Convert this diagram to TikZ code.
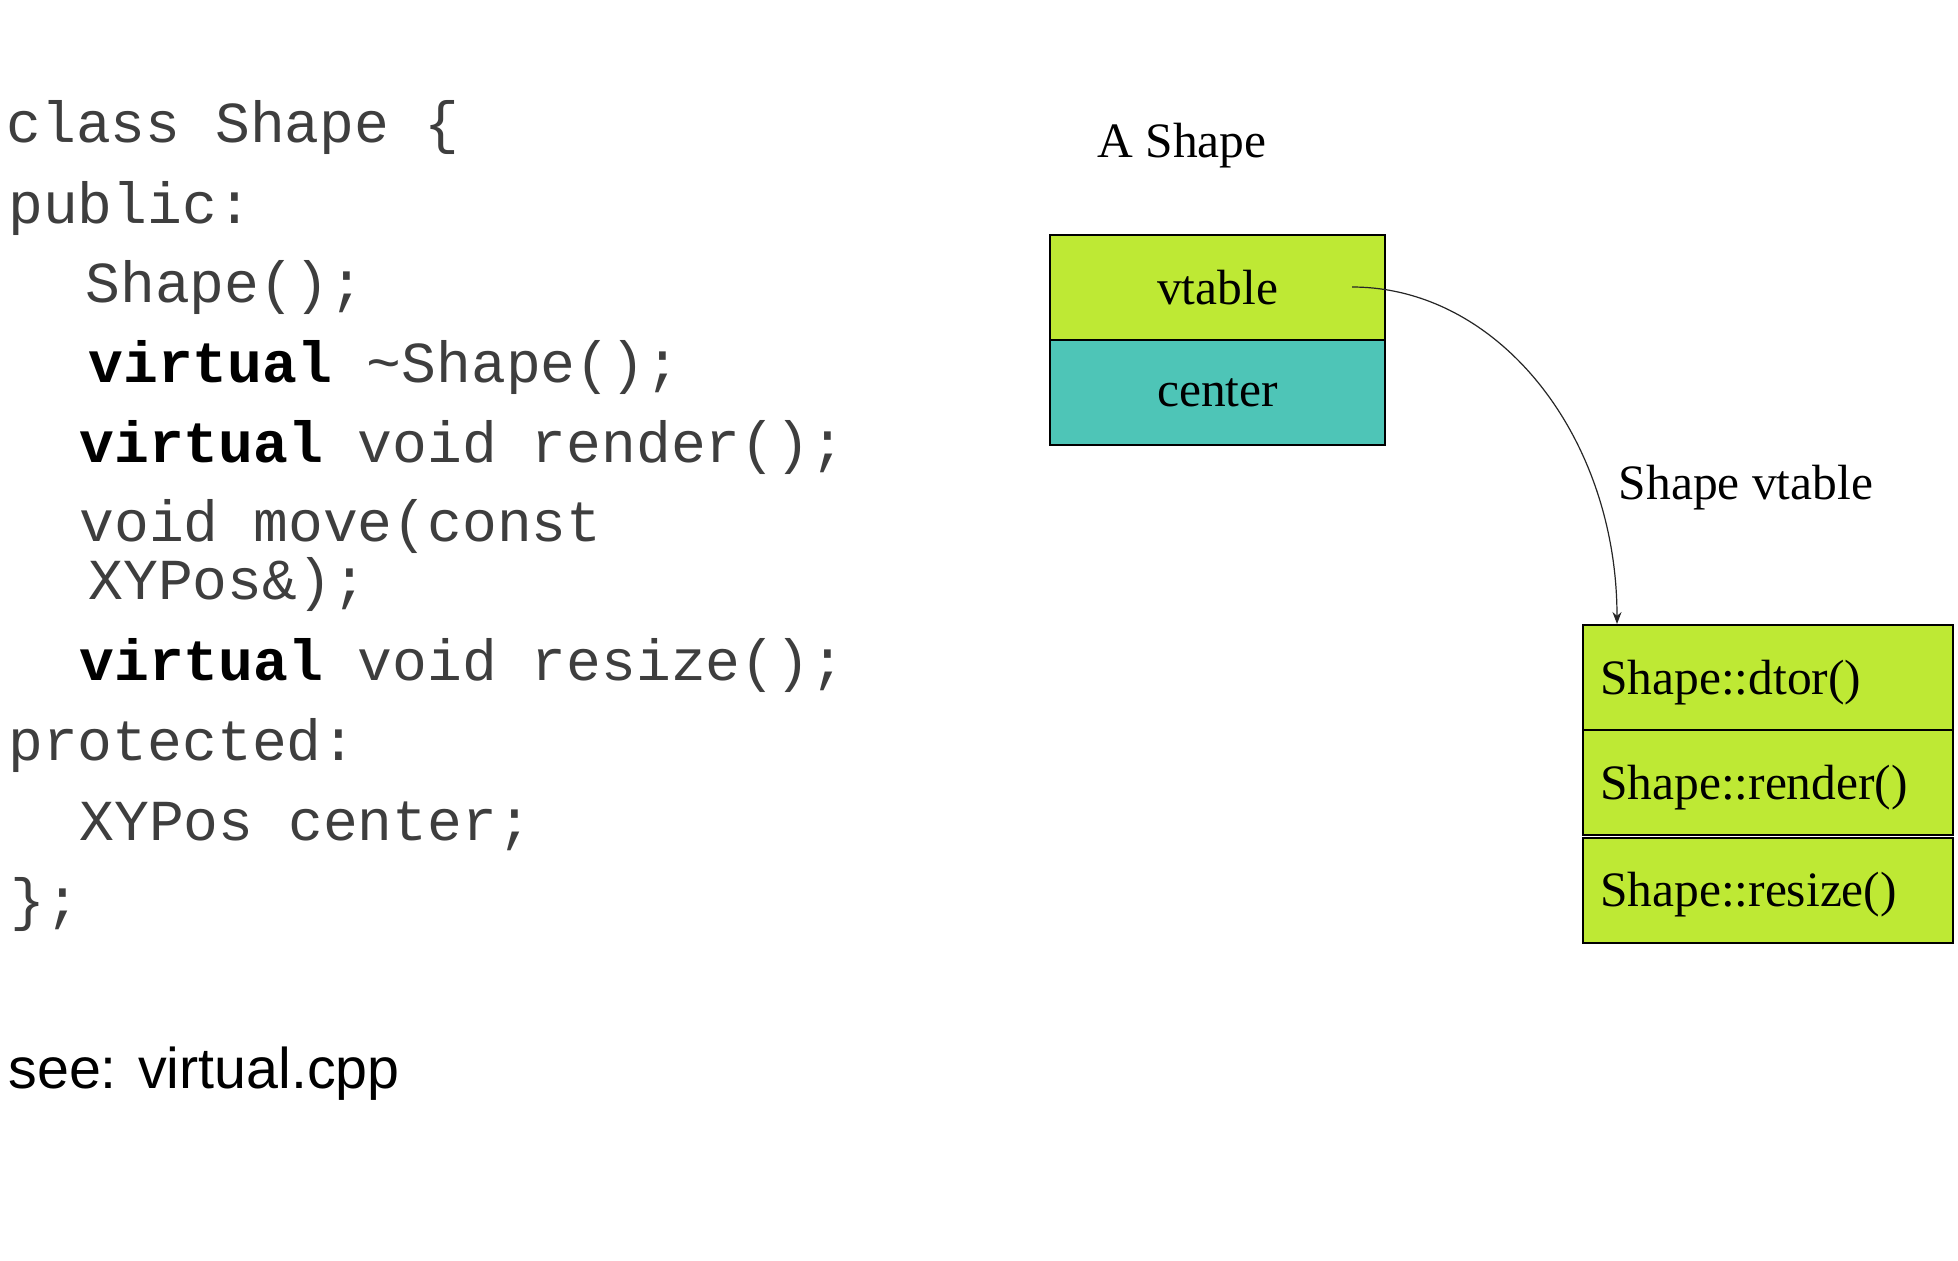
\documentclass[tikz,border=0pt]{standalone}
\usepackage{fontspec}
\setmainfont{Liberation Serif}
\setsansfont{Liberation Sans}
\setmonofont{Liberation Mono}
\usetikzlibrary{arrows.meta}

\definecolor{slotgreen}{RGB}{190,233,52}
\definecolor{slotteal}{RGB}{78,197,183}
\definecolor{codegray}{RGB}{62,62,62}

\begin{document}
\begin{tikzpicture}[x=0.5pt,y=-0.5pt,
  code/.style={anchor=base west, inner sep=0pt,
    font=\fontsize{29}{34}\selectfont\ttfamily, text=codegray},
  label/.style={inner sep=0pt, font=\fontsize{24.75}{30}\selectfont},
  objcell/.style={draw=black, line width=1pt, inner sep=0pt,
    minimum width=167.5pt, minimum height=52.5pt,
    font=\fontsize{24.75}{30}\selectfont},
  vtcell/.style={draw=black, line width=1pt, fill=slotgreen,
    inner xsep=8.5pt, inner ysep=0pt, text width=168pt, align=left,
    text height=22pt, text depth=5.3pt,
    minimum height=52.5pt, font=\fontsize{24.75}{30}\selectfont},
  link/.style={draw=black!85, line width=0.6pt,
    -{Stealth[length=6pt,width=4.5pt]}}]

\useasboundingbox[fill=white] (0,0) rectangle (1958,1260);

% class declaration
\node[code] (l1)  at (6,142)   {class Shape \{};
\node[code] (l2)  at (8,223)   {public:};
\node[code] (l3)  at (85,302)  {Shape();};
\node[code] (l4)  at (88,382)  {\textcolor{black}{\textbf{virtual}} \textasciitilde Shape();};
\node[code] (l5)  at (79,462)  {\textcolor{black}{\textbf{virtual}} void render();};
\node[code] (l6)  at (79,541)  {void move(const};
\node[code] (l7)  at (88,599)  {XYPos\&);};
\node[code] (l8)  at (79,680)  {\textcolor{black}{\textbf{virtual}} void resize();};
\node[code] (l9)  at (8,760)   {protected:};
\node[code] (l10) at (79,840)  {XYPos center;};
\node[code] (l11) at (10,919)  {\};};

\node[anchor=base west, inner sep=0pt, font=\fontsize{28.7}{34}\selectfont\sffamily]
  (see) at (8,1088) {see: virtual.cpp};

% object layout
\node[label] (objtitle) at (1182,146) {A Shape};
\node[objcell, fill=slotgreen] (vptrcell) at (1217.5,287.5) {vtable};
\node[objcell, fill=slotteal]  (centercell) at (1217.5,392.5) {center};

% virtual function table
\node[label] (vttitle) at (1746,488) {Shape vtable};
\node[vtcell] (dtor)   at (1768,677.5) {Shape::dtor()};
\node[vtcell] (render) at (1768,782.5) {Shape::render()};
\node[vtcell] (resize) at (1768,890)   {Shape::resize()};

% pointer from the object to its table
\coordinate (vptr) at (1352,287);
\coordinate (vtin) at ([xshift=17.5pt]dtor.north west);
\draw[link] (vptr) .. controls +(147,0) and +(0,-187) .. (vtin);

\end{tikzpicture}
\end{document}
